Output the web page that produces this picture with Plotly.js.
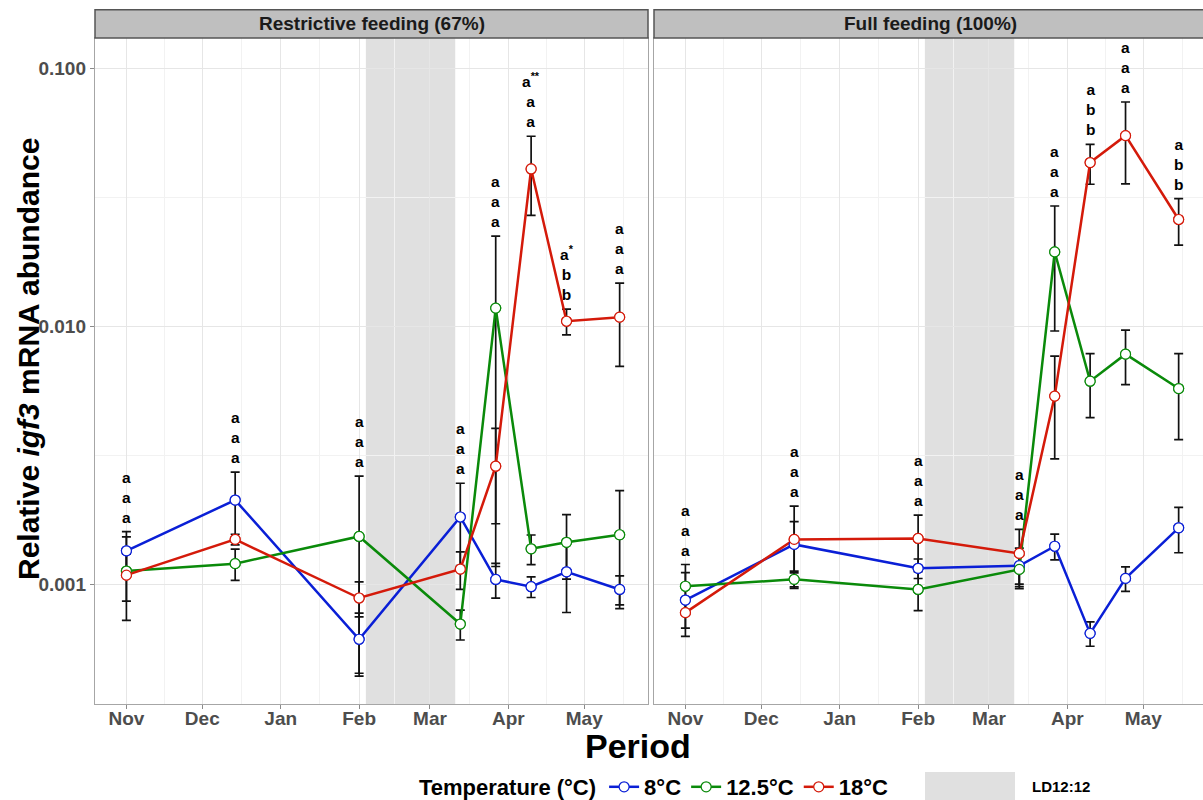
<!DOCTYPE html>
<html><head><meta charset="utf-8">
<script src="https://cdn.plot.ly/plotly-3.0.1.min.js"></script>
<style>html,body{margin:0;padding:0;overflow:hidden;background:#fff}</style>
</head><body><div id="chart" style="width:1207px;height:800px"></div>
<script>
// ---------- data ----------
const sampleDates = ['2018-11-01','2018-12-14','2019-02-01','2019-03-13','2019-03-27','2019-04-10','2019-04-24','2019-05-15'];
const monthTicks  = ['2018-11-01','2018-12-01','2019-01-01','2019-02-01','2019-03-01','2019-04-01','2019-05-01'];
const monthLabels = ['Nov','Dec','Jan','Feb','Mar','Apr','May'];
const yTickVals   = [0.001, 0.01, 0.1];
const yTickText   = ['0.001','0.010','0.100'];
const temperatures = ['8°C','12.5°C','18°C'];
const panelTitles  = ['Restrictive feeding (67%)','Full feeding (100%)'];
const photoperiodLabel = 'LD12:12';
const ldStart = '2019-02-03 16:00';
const ldEnd   = '2019-03-11 00:00';

// Restrictive feeding (67%)
const r8mean   = [0.001346, 0.002117, 0.000611, 0.00182, 0.001042, 0.000977, 0.001116, 0.000953];
const r8se     = [0.00025, 0.0006, 0.00016, 0.00064, 0.00016, 0.00009, 0.00034, 0.000123];
const r125mean = [0.001123, 0.0012, 0.00153, 0.0007, 0.01175, 0.00137, 0.001452, 0.001553];
const r125se   = [0.0004, 0.000167, 0.00109, 0.000093, 0.01058, 0.00018, 0.000407, 0.00075];
const r18mean  = [0.001083, 0.00149, 0.000883, 0.001143, 0.002864, 0.0407, 0.01045, 0.01084];
const r18se    = [0.000224, 0.00007, 0.000137, 0.00019, 0.00115, 0.0138, 0.00119, 0.00385];
const rLetters = ['a<br>a<br>a','a<br>a<br>a','a<br>a<br>a','a<br>a<br>a','a<br>a<br>a','a<sup>**</sup><br>a<br>a','a<sup>*</sup><br>b<br>b','a<br>a<br>a'];

// Full feeding (100%)
const f8mean   = [0.000867, 0.001425, 0.001151, 0.001178, 0.001402, 0.000644, 0.001052, 0.001653];
const f8se     = [0.00024, 0.00032, 0.0001, 0.0002, 0.00016, 0.00007, 0.000115, 0.00033];
const f125mean = [0.000981, 0.001043, 0.000953, 0.00114, 0.01941, 0.00612, 0.00779, 0.00573];
const f125se   = [0.00021, 0.00008, 0.000164, 0.00018, 0.00983, 0.0017, 0.00186, 0.0021];
const f18mean  = [0.000775, 0.00149, 0.001503, 0.001315, 0.005357, 0.0431, 0.0548, 0.02592];
const f18se    = [0.0001, 0.000515, 0.000347, 0.000315, 0.0023, 0.0076, 0.0192, 0.0053];
const fLetters = ['a<br>a<br>a','a<br>a<br>a','a<br>a<br>a','a<br>a<br>a','a<br>a<br>a','a<br>b<br>b','a<br>a<br>a','a<br>b<br>b'];

// ---------- build ----------
const FONT = '"Liberation Sans", Arial, Helvetica, sans-serif';
const colors = ['#0a1fd6', '#0a8a0a', '#d41a0a'];
const panels = [
  {means:[r8mean, r125mean, r18mean], ses:[r8se, r125se, r18se], letters:rLetters, xa:'x',  ya:'y'},
  {means:[f8mean, f125mean, f18mean], ses:[f8se, f125se, f18se], letters:fLetters, xa:'x2', ya:'y2'}
];

function fmt(d){
  const p = n => String(n).padStart(2,'0');
  return d.getUTCFullYear()+'-'+p(d.getUTCMonth()+1)+'-'+p(d.getUTCDate())+' '+p(d.getUTCHours())+':'+p(d.getUTCMinutes());
}
// minor gridlines midway between month starts (Oct .. Jun)
const minorX = [];
for (let m = 9; m < 9+8; m++) {
  const a = Date.UTC(2018, m, 1), b = Date.UTC(2018, m+1, 1);
  minorX.push(fmt(new Date((a+b)/2)));
}

const traces = [];
// error bars first
panels.forEach(p => {
  p.means.forEach((m, s) => {
    traces.push({x: sampleDates, y: m, mode:'markers', xaxis:p.xa, yaxis:p.ya,
      marker:{size:1, color:'rgba(0,0,0,0)'}, showlegend:false, hoverinfo:'skip',
      error_y:{type:'data', array:p.ses[s], visible:true, color:'#111', thickness:1.7, width:4.5}});
  });
});
// lines + markers
panels.forEach((p, pi) => {
  p.means.forEach((m, s) => {
    traces.push({x: sampleDates, y: m, mode:'lines+markers', xaxis:p.xa, yaxis:p.ya,
      name:'<b>'+temperatures[s]+'</b>', legendgroup:'t'+s, showlegend: pi===0,
      line:{color:colors[s], width:2.5},
      marker:{symbol:'circle', size:10, color:'#ffffff', line:{color:colors[s], width:1.2}}});
  });
});
// markers on top
panels.forEach(p => {
  p.means.forEach((m, s) => {
    traces.push({x: sampleDates, y: m, mode:'markers', xaxis:p.xa, yaxis:p.ya, showlegend:false,
      marker:{symbol:'circle', size:10, color:'#ffffff', line:{color:colors[s], width:1.2}}});
  });
});

// letters above highest error bar
const annotations = [];
panels.forEach(p => {
  sampleDates.forEach((d, i) => {
    let top = 0;
    p.means.forEach((m, s) => { top = Math.max(top, m[i] + p.ses[s][i]); });
    annotations.push({x:d, y:Math.log10(top), xref:p.xa, yref:p.ya, text:p.letters[i],
      showarrow:false, yanchor:'bottom', yshift:4, align:'center',
      font:{family:FONT, size:15.5, color:'#000', weight:'bold'}});
  });
});

const W = 1207, H = 800, ML = 95, MT = 38, MB = 96;
const PW = W - ML, PH = H - MT - MB;
const leftDomain = [0, 553/PW], rightDomain = [559/PW, 1];
const stripTop = 1 + 28.2/PH;

panelTitles.forEach((t, i) => {
  annotations.push({text:'<b>'+t+'</b>', xref:(i===0?'x':'x2')+' domain', x:0.5, yref:'paper', y:(1+stripTop)/2,
    showarrow:false, xanchor:'center', yanchor:'middle', font:{family:FONT, size:19, color:'#1a1a1a'}});
});
annotations.push({text:'<b>Period</b>', xref:'paper', yref:'paper', x:(638-ML)/PW, y:(704-746)/PH,
  showarrow:false, xanchor:'center', yanchor:'middle', borderpad:0, font:{family:FONT, size:34, color:'#000'}});
annotations.push({text:'<b>Relative <i>igf3</i> mRNA abundance</b>', xref:'paper', yref:'paper',
  x:(28-ML)/PW, y:(704-359)/PH, textangle:-90, showarrow:false, xanchor:'center', yanchor:'middle',
  font:{family:FONT, size:30, color:'#000'}});
annotations.push({text:'<b>'+photoperiodLabel+'</b>', xref:'paper', yref:'paper',
  x:(1030-ML)/PW, y:(704-787)/PH, showarrow:false, xanchor:'left', yanchor:'middle',
  font:{family:FONT, size:15, color:'#000'}});

const shapes = [];
['x','x2'].forEach((xa, i) => {
  shapes.push({type:'rect', xref:xa, yref:(i===0?'y':'y2')+' domain', x0:ldStart, x1:ldEnd, y0:0, y1:1,
    fillcolor:'#e0e0e0', line:{width:0}, layer:'below'});
  shapes.push({type:'rect', xref:xa+' domain', yref:'paper', x0:0, x1:1, y0:1, y1:stripTop,
    fillcolor:'#bfbfbf', line:{color:'#555555', width:1.5}, layer:'above'});
});
shapes.push({type:'rect', xref:'paper', yref:'paper', x0:(925-ML)/PW, x1:(1015-ML)/PW,
  y0:(704-772)/PH, y1:(704-803)/PH, fillcolor:'#e0e0e0', line:{width:0}});

const xBase = {type:'date', range:['2018-10-19 14:00','2019-05-26 05:00'], tickvals:monthTicks, ticktext:monthLabels,
  tickfont:{family:FONT, size:19, color:'#4d4d4d', weight:'bold'}, ticks:'outside', ticklen:4, tickcolor:'#8a8a8a',
  ticklabelstandoff:-7,
  showgrid:true, gridcolor:'#e6e6e6', gridwidth:1, zeroline:false, showline:true, mirror:true,
  linecolor:'#a6a6a6', linewidth:1.2,
  minor:{tickvals:minorX, showgrid:true, gridcolor:'#f2f2f2', gridwidth:1, ticks:''}};
const yMinor = {tickvals:[Math.pow(10,-1.5), Math.pow(10,-2.5)], showgrid:true, gridcolor:'#f2f2f2', gridwidth:1, ticks:''};
const yBase = {type:'log', range:[-3.465, -0.8826], tickvals:yTickVals, ticktext:yTickText,
  tickfont:{family:FONT, size:19, color:'#4d4d4d', weight:'bold'}, ticks:'outside', ticklen:4, tickcolor:'#8a8a8a',
  showgrid:true, gridcolor:'#e6e6e6', gridwidth:1, zeroline:false, showline:true, mirror:true,
  linecolor:'#a6a6a6', linewidth:1.2, minor:yMinor};

const layout = {
  width:W, height:H, autosize:false,
  margin:{l:ML, r:0, t:MT, b:MB, pad:0, autoexpand:false},
  paper_bgcolor:'#ffffff', plot_bgcolor:'#ffffff',
  font:{family:FONT},
  xaxis:Object.assign({}, xBase, {domain:leftDomain, anchor:'y'}),
  xaxis2:Object.assign({}, xBase, {domain:rightDomain, anchor:'y2'}),
  yaxis:Object.assign({}, yBase, {domain:[0,1], anchor:'x'}),
  yaxis2:Object.assign({}, yBase, {domain:[0,1], anchor:'x2', matches:'y', showticklabels:false, ticks:''}),
  showlegend:true,
  legend:{orientation:'h', x:(417-ML)/PW, xanchor:'left', y:(704-787)/PH, yanchor:'middle',
    bgcolor:'rgba(0,0,0,0)', itemwidth:30, traceorder:'normal',
    title:{text:'<b>Temperature (°C)</b>', side:'left', font:{family:FONT, size:22, color:'#000'}},
    font:{family:FONT, size:22, color:'#000'}},
  shapes:shapes,
  annotations:annotations
};

Plotly.newPlot('chart', traces, layout, {displayModeBar:false, staticPlot:true});
</script>
</body></html>
